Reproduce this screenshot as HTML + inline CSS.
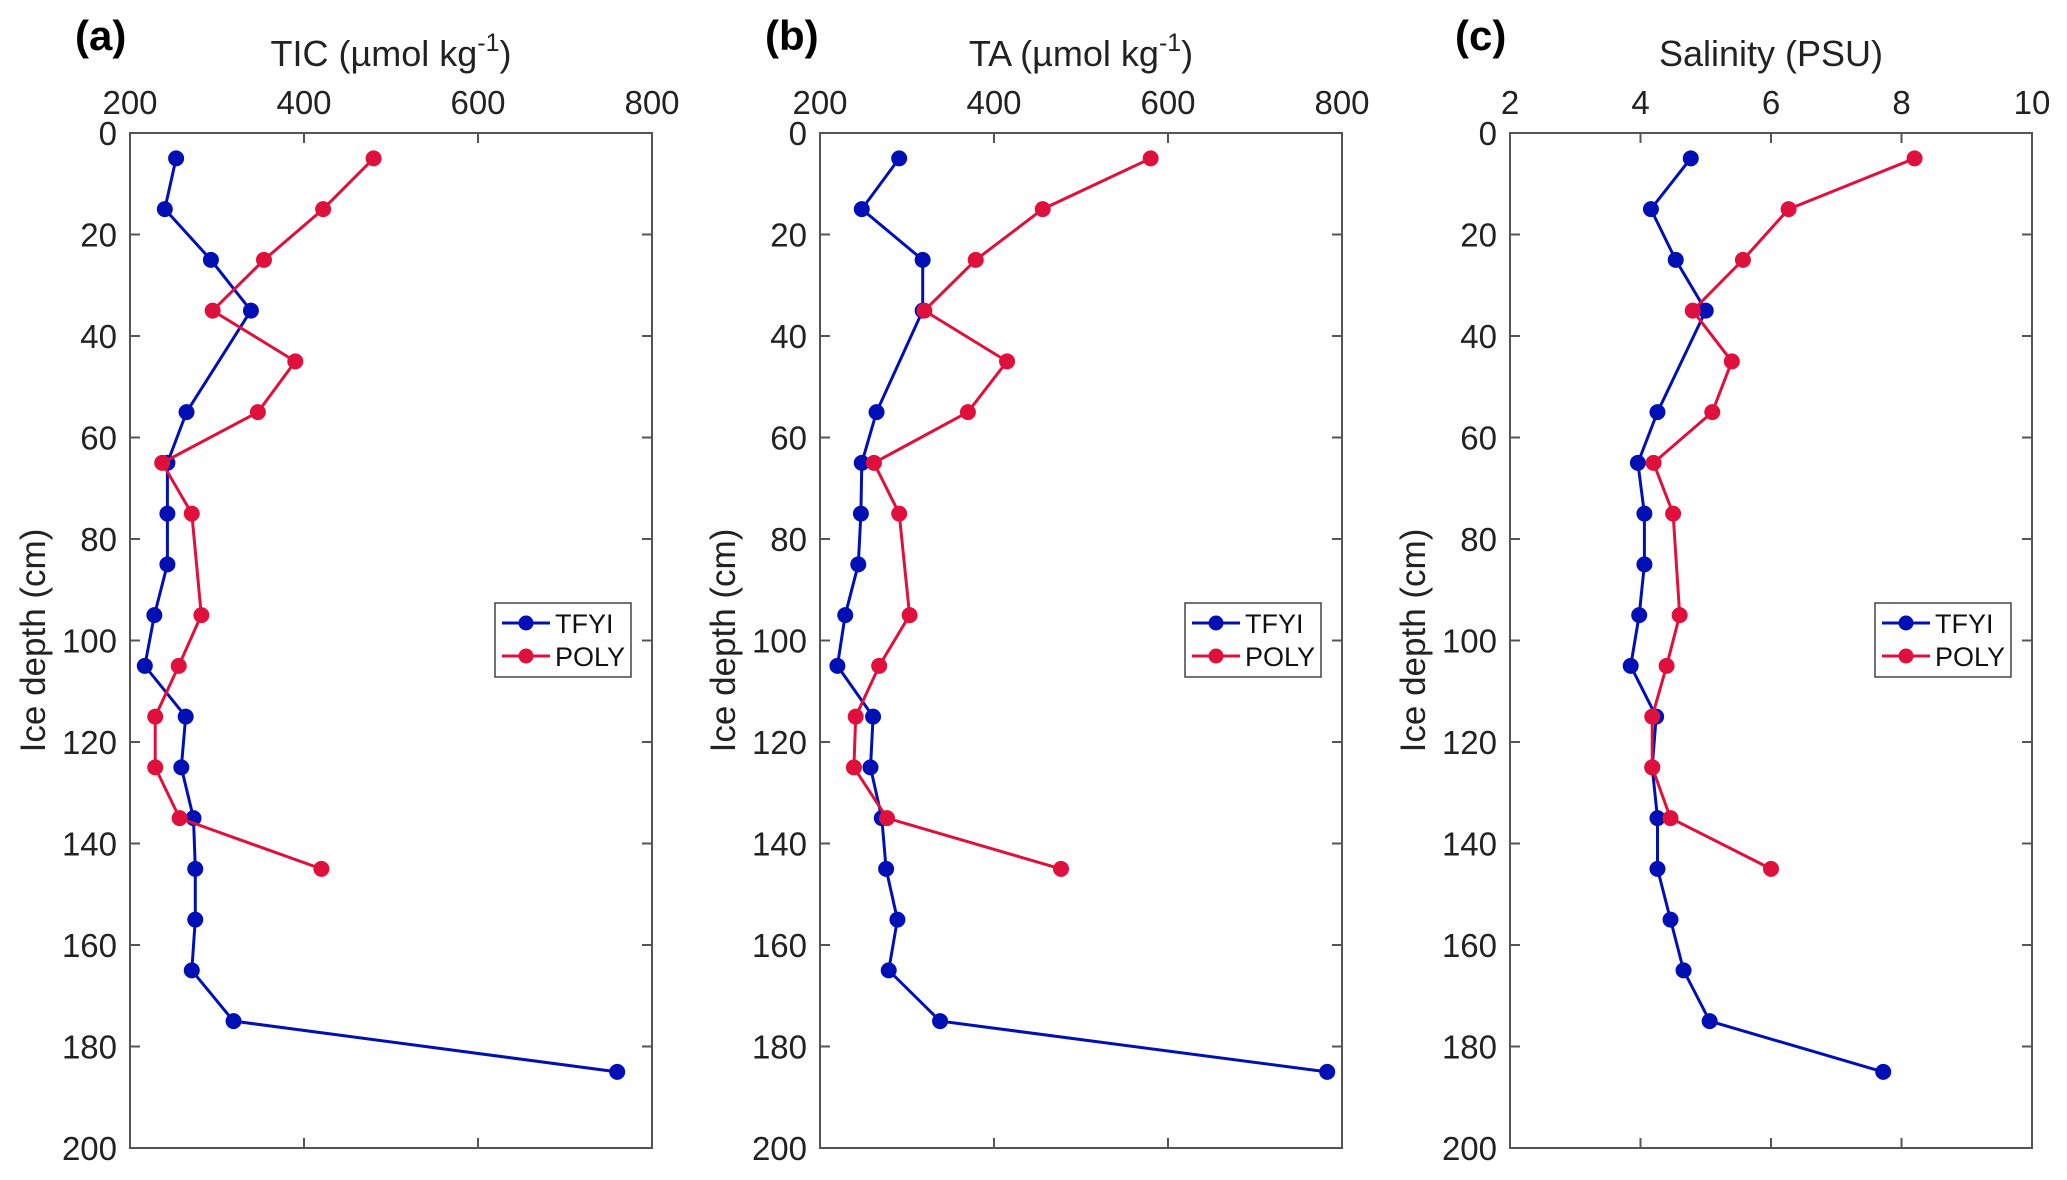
<!DOCTYPE html>
<html><head><meta charset="utf-8"><style>
html,body{margin:0;padding:0;background:#fff;}
svg{display:block;font-family:"Liberation Sans",Arial,sans-serif;}
</style></head><body>
<svg id="chart" width="2067" height="1180" viewBox="0 0 2067 1180" xmlns="http://www.w3.org/2000/svg"></svg>
<script>
const depthTFYI = [5,15,25,35,55,65,75,85,95,105,115,125,135,145,155,165,175,185];
const depthPOLY = [5,15,25,35,45,55,65,75,95,105,115,125,135,145];
const ticTFYI = [253,240,293,339,265,243,243,243,228,217,264,259,273,275,275,271,319,760];
const ticPOLY = [480,422,354,295,390,347,237,271,282,256,229,229,257,420];
const taTFYI = [291,248,318,318,265,248,247,244,229,220,261,258,271,276,289,279,338,783];
const taPOLY = [580,456,379,320,415,370,262,291,303,268,241,239,277,477];
const salTFYI = [4.77,4.16,4.54,5.0,4.26,3.96,4.06,4.06,3.98,3.85,4.24,4.18,4.26,4.26,4.46,4.66,5.06,7.72];
const salPOLY = [8.2,6.27,5.57,4.8,5.4,5.1,4.2,4.5,4.6,4.4,4.18,4.18,4.46,6.0];
const yTicks = [0,20,40,60,80,100,120,140,160,180,200];
const xTicksA = [200,400,600,800];
const xTicksC = [2,4,6,8,10];

const NS = 'http://www.w3.org/2000/svg';
const svg = document.getElementById('chart');
const TOP = 133, BOT = 1148, W = 522;
const BLUE = '#0010b4', RED = '#e0103c';
function mk(tag, attrs, parent, text){
  const e = document.createElementNS(NS, tag);
  for (const k in attrs) e.setAttribute(k, attrs[k]);
  if (text !== undefined) e.textContent = text;
  (parent || svg).appendChild(e);
  return e;
}
const yScale = d => TOP + (d - 0) / 200 * (BOT - TOP);

function panel(id, left, xmin, xmax, xticks, letter, titleParts, series){
  const g = mk('g', {});
  
  
  const xScale = v => left + (v - xmin) / (xmax - xmin) * W;
  const fr = mk('rect', {x:left, y:TOP, width:W, height:BOT-TOP, fill:'none', stroke:'#555', 'stroke-width':2}, g);
  
  
  xticks.forEach(t => {
    const x = xScale(t);
    mk('line', {x1:x, x2:x, y1:TOP, y2:TOP+10, stroke:'#555', 'stroke-width':2}, g);
    mk('line', {x1:x, x2:x, y1:BOT, y2:BOT-10, stroke:'#555', 'stroke-width':2}, g);
    const tl = mk('text', {x:x, y:114, 'font-size':33, 'text-anchor':'middle', fill:'#222'}, g, String(t));
    
    
  });
  yTicks.forEach(t => {
    const y = yScale(t);
    mk('line', {x1:left, x2:left+10, y1:y, y2:y, stroke:'#555', 'stroke-width':2}, g);
    mk('line', {x1:left+W, x2:left+W-10, y1:y, y2:y, stroke:'#555', 'stroke-width':2}, g);
    const tl = mk('text', {x:left-13, y:y+12, 'font-size':33, 'text-anchor':'end', fill:'#222'}, g, String(t));
    
    
  });
  const yt = mk('text', {x:0, y:0, 'font-size':35, 'text-anchor':'middle', fill:'#222', transform:'translate('+(left-85)+','+((TOP+BOT)/2)+') rotate(-90)'}, g, 'Ice depth (cm)');
  
  
  const xt = mk('text', {x:left+W/2, y:66, 'font-size':36, 'text-anchor':'middle', fill:'#222'}, g);
  
  
  mk('tspan', {}, xt, titleParts[0]);
  if (titleParts.length > 1){
    mk('tspan', {dy:-15, 'font-size':25}, xt, titleParts[1]);
    mk('tspan', {dy:15}, xt, titleParts[2]);
  }
  const lt = mk('text', {x:left-55, y:50, 'font-size':42, 'font-weight':'bold', fill:'#000'}, g, letter);
  
  
  series.forEach(s => {
    const pts = s.vals.map((v,i) => xScale(v).toFixed(1) + ',' + yScale(s.depth[i]).toFixed(1)).join(' ');
    const pl = mk('polyline', {points:pts, fill:'none', stroke:s.color, 'stroke-width':3}, g);
    
    
    s.vals.forEach((v,i) => {
      const c = mk('circle', {cx:xScale(v), cy:yScale(s.depth[i]), r:8, fill:s.color}, g);
      
      
    });
  });
  const lg = mk('g', {}, g);
  
  
  const lx = left + 365;
  mk('rect', {x:lx, y:603, width:136, height:74, fill:'#fff', stroke:'#444', 'stroke-width':1.5}, lg);
  series.forEach((s, i) => {
    const y = 623 + i*33;
    const e = mk('g', {}, lg);
    
    
    mk('line', {x1:lx+7, x2:lx+55, y1:y, y2:y, stroke:s.color, 'stroke-width':3}, e);
    mk('circle', {cx:lx+31, cy:y, r:7.5, fill:s.color}, e);
    mk('text', {x:lx+60, y:y+10, 'font-size':27, fill:'#111'}, e, s.name);
  });
}
panel('tic', 130, 200, 800, xTicksA, '(a)', ['TIC (µmol kg','-1',')'],
  [{name:'TFYI', color:BLUE, depth:depthTFYI, vals:ticTFYI},{name:'POLY', color:RED, depth:depthPOLY, vals:ticPOLY}]);
panel('ta', 820, 200, 800, xTicksA, '(b)', ['TA (µmol kg','-1',')'],
  [{name:'TFYI', color:BLUE, depth:depthTFYI, vals:taTFYI},{name:'POLY', color:RED, depth:depthPOLY, vals:taPOLY}]);
panel('salinity', 1510, 2, 10, xTicksC, '(c)', ['Salinity (PSU)'],
  [{name:'TFYI', color:BLUE, depth:depthTFYI, vals:salTFYI},{name:'POLY', color:RED, depth:depthPOLY, vals:salPOLY}]);
</script>
</body></html>
